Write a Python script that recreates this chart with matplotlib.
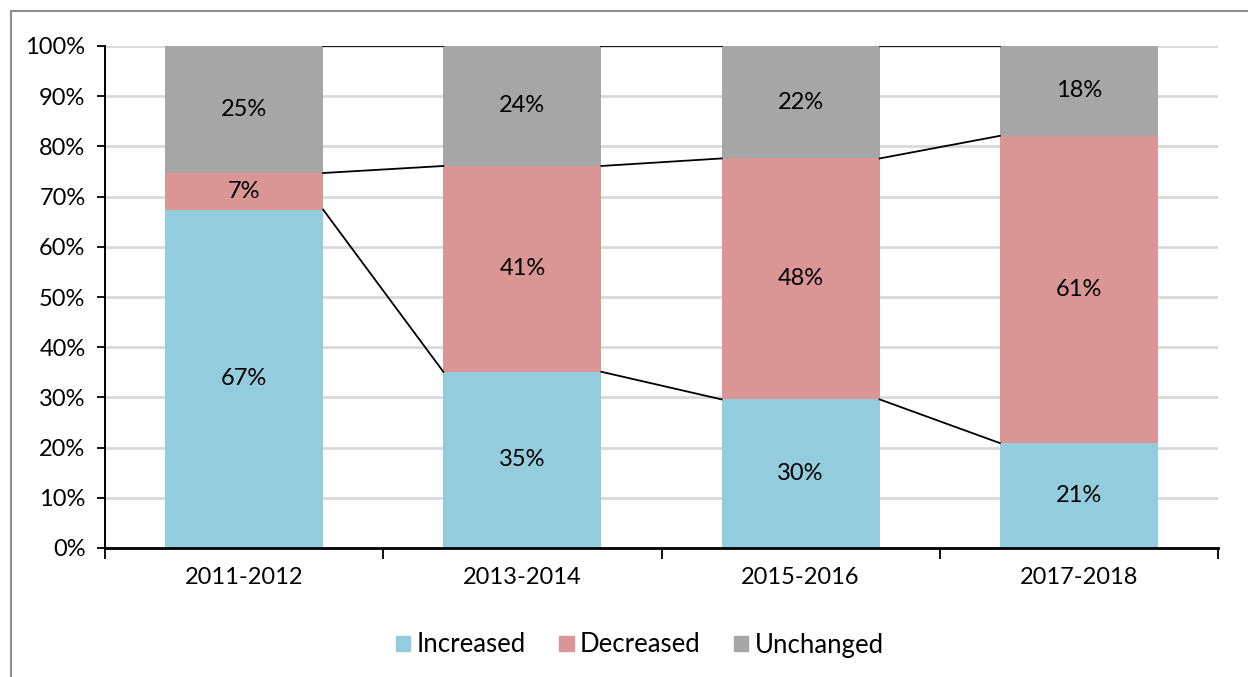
import numpy as np
import matplotlib
matplotlib.use("Agg")
import matplotlib.pyplot as plt
from matplotlib.lines import Line2D

# data (percent of respondents)
periods = ["2011-2012", "2013-2014", "2015-2016", "2017-2018"]
increased = [67.4, 35.1, 29.6, 20.9]
decreased = [7.3, 41.0, 48.0, 61.2]
unchanged = [25.3, 23.9, 22.4, 17.9]

series_names = ["Increased", "Decreased", "Unchanged"]
colors = ["#93CDDD", "#D99694", "#A6A6A6"]

plt.rcParams["font.family"] = ["Lato", "DejaVu Sans"]

fig = plt.figure(figsize=(12.48, 6.77), dpi=100)
ax = fig.add_axes([105 / 1248, 1 - 548 / 677, 1113 / 1248, 502 / 677])

x = np.arange(len(periods))
width = 0.568
bottom = np.zeros(len(periods))
tops = []
for vals, name, col in zip([increased, decreased, unchanged], series_names, colors):
    vals = np.array(vals)
    ax.bar(x, vals, width, bottom=bottom, color=col, label=name, zorder=3)
    for xi, b, v in zip(x, bottom, vals):
        ax.text(xi, b + v / 2, f"{round(v)}%", ha="center", va="center",
                fontsize=17, color="black", zorder=5)
    bottom = bottom + vals
    tops.append(bottom.copy())

# series lines between bars
for t in tops:
    for i in range(len(periods) - 1):
        ax.plot([x[i] + width / 2, x[i + 1] - width / 2], [t[i], t[i + 1]],
                color="black", lw=1.3, zorder=4)

ax.set_xlim(-0.5, len(periods) - 0.5)
ax.set_ylim(0, 100)
ax.set_yticks(np.arange(0, 101, 10))
ax.set_yticklabels([f"{v}%" for v in range(0, 101, 10)], fontsize=17)
ax.set_xticks(x)
ax.set_xticklabels(periods, fontsize=17)
ax.tick_params(axis="x", length=0, pad=14)
ax.set_xticks(np.arange(-0.5, len(periods), 1), minor=True)
ax.tick_params(axis="x", which="minor", length=8, width=1.3, color="black")
ax.tick_params(axis="y", length=6, width=1.3, direction="out", pad=8)

ax.grid(axis="y", color="#D9D9D9", lw=2, zorder=0)
for s in ["top", "right"]:
    ax.spines[s].set_visible(False)
ax.spines["left"].set_linewidth(1.4)
ax.spines["bottom"].set_linewidth(2)
ax.spines["bottom"].set_zorder(6)

handles = [plt.Rectangle((0, 0), 1, 1, color=c) for c in colors]
fig.legend(handles, series_names, loc="center", bbox_to_anchor=(640 / 1248, 1 - 645 / 677),
           ncol=3, frameon=False, fontsize=18.5, handlelength=0.55, handleheight=0.55,
           handletextpad=0.25, columnspacing=1.3)

# outer chart frame (only top and left visible in the crop)
fig.add_artist(Line2D([11 / 1248, 11 / 1248], [0, 1 - 11 / 677], transform=fig.transFigure,
                      color="#8C8C8C", lw=1.5))
fig.add_artist(Line2D([11 / 1248, 1], [1 - 11 / 677, 1 - 11 / 677], transform=fig.transFigure,
                      color="#8C8C8C", lw=1.5))

fig.savefig("out.png", dpi=100)
